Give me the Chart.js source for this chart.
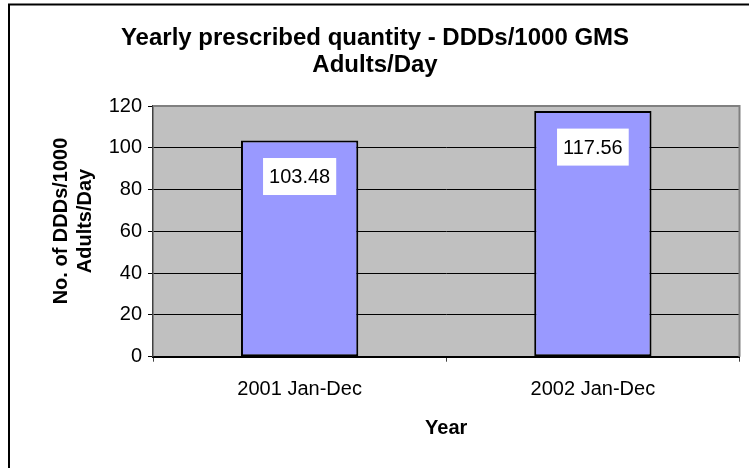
<!DOCTYPE html>
<html>
<head>
<meta charset="utf-8">
<script src="https://cdn.jsdelivr.net/npm/chart.js@4.4.0/dist/chart.umd.min.js"></script>
<style>
  html, body { margin: 0; padding: 0; background: #fff; }
  #wrap { position: relative; width: 749px; height: 468px; }
</style>
</head>
<body>
<div id="wrap"><canvas id="c"></canvas></div>
<script>
// Chart data
const categories = ['2001 Jan-Dec', '2002 Jan-Dec'];
const ddds = [103.48, 117.56];
const yTicks = [0, 20, 40, 60, 80, 100, 120];
const titleLines = ['Yearly prescribed quantity - DDDs/1000 GMS', 'Adults/Day'];
const yTitleLines = ['No. of DDDs/1000', 'Adults/Day'];
const xTitle = 'Year';

const FONT = 'Arial, "Liberation Sans", sans-serif';

// Background, outer frame and grey plot area
const framePlugin = {
  id: 'frame',
  beforeDraw(chart) {
    const ctx = chart.ctx, a = chart.chartArea;
    ctx.save();
    ctx.fillStyle = '#fff';
    ctx.fillRect(0, 0, chart.width, chart.height);
    ctx.strokeStyle = '#000';
    ctx.lineWidth = 2;
    ctx.beginPath();
    ctx.moveTo(9, chart.height);
    ctx.lineTo(9, 4.5);
    ctx.lineTo(chart.width, 4.5);
    ctx.stroke();
    ctx.fillStyle = '#C0C0C0';
    ctx.fillRect(a.left, a.top, a.right - a.left, a.bottom - a.top);
    ctx.restore();
  }
};

// Plot border, value boxes and titles
const labelPlugin = {
  id: 'labels',
  afterDatasetsDraw(chart) {
    const ctx = chart.ctx, a = chart.chartArea;
    ctx.save();
    ctx.strokeStyle = '#808080';
    ctx.lineWidth = 2;
    ctx.beginPath();
    ctx.moveTo(a.left, a.top);
    ctx.lineTo(a.right, a.top);
    ctx.lineTo(a.right, a.bottom);
    ctx.stroke();

    const meta = chart.getDatasetMeta(0);
    ctx.font = '20px ' + FONT;
    ctx.textAlign = 'center';
    ctx.textBaseline = 'middle';
    meta.data.forEach((bar, i) => {
      const txt = ddds[i].toFixed(2);
      const w = ctx.measureText(txt).width + 12;
      const h = 37;
      const cy = bar.y + 36;
      ctx.fillStyle = '#fff';
      ctx.fillRect(bar.x - w / 2, cy - h / 2, w, h);
      ctx.fillStyle = '#000';
      ctx.fillText(txt, bar.x, cy + 1);
    });
    ctx.restore();
  },
  afterDraw(chart) {
    const ctx = chart.ctx, a = chart.chartArea;
    ctx.save();
    ctx.fillStyle = '#000';
    ctx.textAlign = 'center';
    ctx.textBaseline = 'middle';
    ctx.font = 'bold 24px ' + FONT;
    ctx.fillText(titleLines[0], 375, 38);
    ctx.fillText(titleLines[1], 375, 65);

    ctx.font = 'bold 20px ' + FONT;
    ctx.fillText(xTitle, (a.left + a.right) / 2, 428);

    ctx.translate(0, 221);
    ctx.rotate(-Math.PI / 2);
    ctx.fillText(yTitleLines[0], 0, 61);
    ctx.fillText(yTitleLines[1], 0, 85);
    ctx.restore();
  }
};

new Chart(document.getElementById('c'), {
  type: 'bar',
  data: {
    labels: categories,
    datasets: [{
      data: ddds,
      backgroundColor: '#9999FF',
      borderColor: '#000',
      borderWidth: 2,
      borderSkipped: false,
      barPercentage: 0.4,
      categoryPercentage: 1
    }]
  },
  options: {
    responsive: true,
    maintainAspectRatio: false,
    animation: false,
    layout: { padding: { top: 106, right: 9.5, left: 0, bottom: 0 } },
    plugins: { legend: { display: false }, title: { display: false }, tooltip: { enabled: false } },
    scales: {
      x: {
        offset: true,
        grid: { offset: true, drawOnChartArea: false, drawTicks: true, tickLength: 5, color: '#404040', lineWidth: 1 },
        border: { color: '#000', width: 2 },
        ticks: { color: '#000', font: { family: FONT, size: 20 }, padding: 16, maxRotation: 0 },
        afterFit(scale) { scale.height = 468 - 356.7; }
      },
      y: {
        min: 0,
        max: 120,
        afterBuildTicks(scale) { scale.ticks = yTicks.map(v => ({ value: v })); },
        grid: { color: '#000', lineWidth: 1, drawTicks: true, tickLength: 5 },
        border: { color: '#404040', width: 1.5 },
        ticks: { color: '#000', font: { family: FONT, size: 20 }, padding: 6 },
        afterFit(scale) { scale.width = 153; }
      }
    }
  },
  plugins: [framePlugin, labelPlugin]
});
</script>
</body>
</html>
